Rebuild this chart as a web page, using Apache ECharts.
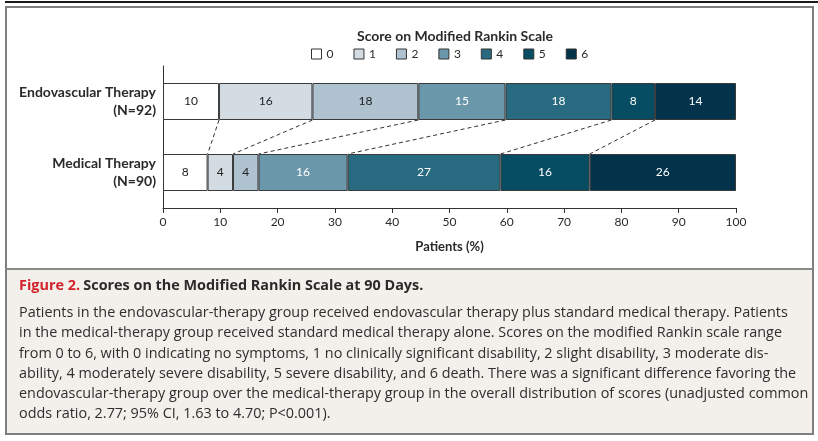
<!DOCTYPE html>
<html>
<head>
<meta charset="utf-8">
<script src="https://cdn.jsdelivr.net/npm/echarts@6/dist/echarts.min.js"></script>
<style>
html,body{margin:0;padding:0;background:#fff;}
#chart{width:818px;height:441px;}
</style>
</head>
<body>
<div id="chart"></div>
<script>
// ---- data ----
var groups = ['Endovascular Therapy\n(N=92)', 'Medical Therapy\n(N=90)'];
var scores = ['0', '1', '2', '3', '4', '5', '6'];
var endovascular = [9.78, 16.30, 18.48, 15.22, 18.48, 7.61, 14.13];
var medical = [7.78, 4.44, 4.44, 15.56, 26.67, 15.56, 25.55];
var xTicks = [0, 10, 20, 30, 40, 50, 60, 70, 80, 90, 100];
var colors = ['#ffffff', '#d3dce3', '#aec3cf', '#6b97aa', '#286a80', '#064d64', '#03334a'];
var labelColors = ['#222', '#222', '#222', '#fff', '#fff', '#fff', '#fff'];
var titleText = 'Score on Modified Rankin Scale';
var xName = 'Patients (%)';
var captionHead = 'Figure 2.';
var captionTitle = 'Scores on the Modified Rankin Scale at 90 Days.';
var captionLines = [
  'Patients in the endovascular-therapy group received endovascular therapy plus standard medical therapy. Patients',
  'in the medical-therapy group received standard medical therapy alone. Scores on the modified Rankin scale range',
  'from 0 to 6, with 0 indicating no symptoms, 1 no clinically significant disability, 2 slight disability, 3 moderate dis-',
  'ability, 4 moderately severe disability, 5 severe disability, and 6 death. There was a significant difference favoring the',
  'endovascular-therapy group over the medical-therapy group in the overall distribution of scores (unadjusted common',
  'odds ratio, 2.77; 95% CI, 1.63 to 4.70; P<0.001).'
];

// ---- build ----
var FONT = 'Lato, "Open Sans", sans-serif';
var CAPFONT = '"Open Sans", Lato, sans-serif';
var BAR_W = 37;

function cumulative(arr) {
  var out = [], s = 0;
  for (var i = 0; i < arr.length - 1; i++) { s += arr[i]; out.push(s); }
  return out;
}
var cumE = cumulative(endovascular);
var cumM = cumulative(medical);
var connectData = cumE.map(function (v, i) { return [v, cumM[i], 0]; });

var series = scores.map(function (s, i) {
  return {
    name: s,
    type: 'bar',
    stack: 'mrs',
    barWidth: BAR_W,
    data: [endovascular[i], medical[i]],
    itemStyle: { color: colors[i], borderColor: '#3a3a3a', borderWidth: 1 },
    label: {
      show: true,
      position: 'inside',
      color: labelColors[i],
      fontFamily: FONT,
      fontSize: 12,
      formatter: function (p) { return Math.round(p.value); }
    },
    emphasis: { disabled: true }
  };
});

series.push({
  type: 'custom',
  name: 'connectors',
  data: connectData,
  encode: { x: [0, 1], y: 2 },
  silent: true,
  z: 1,
  renderItem: function (params, api) {
    var p1 = api.coord([api.value(0), 0]);
    var p2 = api.coord([api.value(1), 1]);
    var h = BAR_W / 2;
    return {
      type: 'line',
      shape: { x1: p1[0], y1: p1[1] + h, x2: p2[0], y2: p2[1] - h },
      style: { stroke: '#333', lineWidth: 1, lineDash: [4, 3] }
    };
  }
});

var captionGraphics = [
  { type: 'rect', z: -10, shape: { x: 5, y: 1, width: 813, height: 2 }, style: { fill: '#1a1a1a' } },
  { type: 'rect', z: -10, shape: { x: 6, y: 7, width: 807, height: 427 }, style: { fill: '#ffffff', stroke: '#7f7f7f', lineWidth: 2 } },
  { type: 'rect', z: -9, shape: { x: 7, y: 269, width: 805, height: 164 }, style: { fill: '#f3efeb' } },
  { type: 'rect', z: -9, shape: { x: 6, y: 268, width: 807, height: 2 }, style: { fill: '#8a8a8a' } },
  {
    type: 'text', z: 5, left: 19, top: 279,
    style: {
      text: '{r|' + captionHead + '} {b|' + captionTitle + '}',
      rich: {
        r: { fill: '#d2232a', fontFamily: CAPFONT, fontWeight: 'bold', fontSize: 14.4 },
        b: { fill: '#2a2a2a', fontFamily: CAPFONT, fontWeight: 'bold', fontSize: 14.4 }
      }
    }
  },
  {
    type: 'text', z: 5, left: 19, top: 303,
    style: {
      text: captionLines.join('\n'),
      fill: '#2e2e2e',
      fontFamily: CAPFONT,
      fontSize: 14.4,
      lineHeight: 20.2
    }
  }
];

var option = {
  animation: false,
  backgroundColor: '#ffffff',
  textStyle: { fontFamily: FONT },
  color: colors,
  title: {
    text: titleText,
    left: 450,
    textAlign: 'center',
    top: 24,
    textStyle: { fontFamily: FONT, fontWeight: 'bold', fontSize: 14, color: '#2a2a2a' }
  },
  legend: {
    data: scores,
    left: 311,
    top: 48,
    padding: 0,
    itemWidth: 10,
    itemHeight: 10,
    itemGap: 20,
    icon: 'rect',
    selectedMode: false,
    itemStyle: { borderColor: '#333', borderWidth: 1 },
    textStyle: { fontFamily: FONT, fontSize: 12, color: '#2a2a2a' }
  },
  grid: { left: 163, right: 82, top: 66, bottom: 233 },
  xAxis: {
    type: 'value',
    min: 0,
    max: 100,
    interval: 10,
    splitLine: { show: false },
    axisLine: { show: true, lineStyle: { color: '#333', width: 1 } },
    axisTick: { show: true, length: 5, lineStyle: { color: '#333' } },
    axisLabel: { fontFamily: FONT, fontSize: 12, color: '#2a2a2a', margin: 8,
      customValues: xTicks },
    name: xName,
    nameLocation: 'middle',
    nameGap: 32,
    nameTextStyle: { fontFamily: FONT, fontWeight: 'bold', fontSize: 13, color: '#2a2a2a' }
  },
  yAxis: {
    type: 'category',
    data: groups,
    inverse: true,
    axisLine: { show: true, lineStyle: { color: '#333', width: 1 } },
    axisTick: { show: false },
    axisLabel: {
      fontFamily: FONT, fontWeight: 'bold', fontSize: 14, color: '#2a2a2a',
      align: 'right', margin: 7, lineHeight: 18
    }
  },
  graphic: captionGraphics,
  series: series
};

var chart = echarts.init(document.getElementById('chart'), null, { renderer: 'canvas' });
chart.setOption(option);
</script>
</body>
</html>
